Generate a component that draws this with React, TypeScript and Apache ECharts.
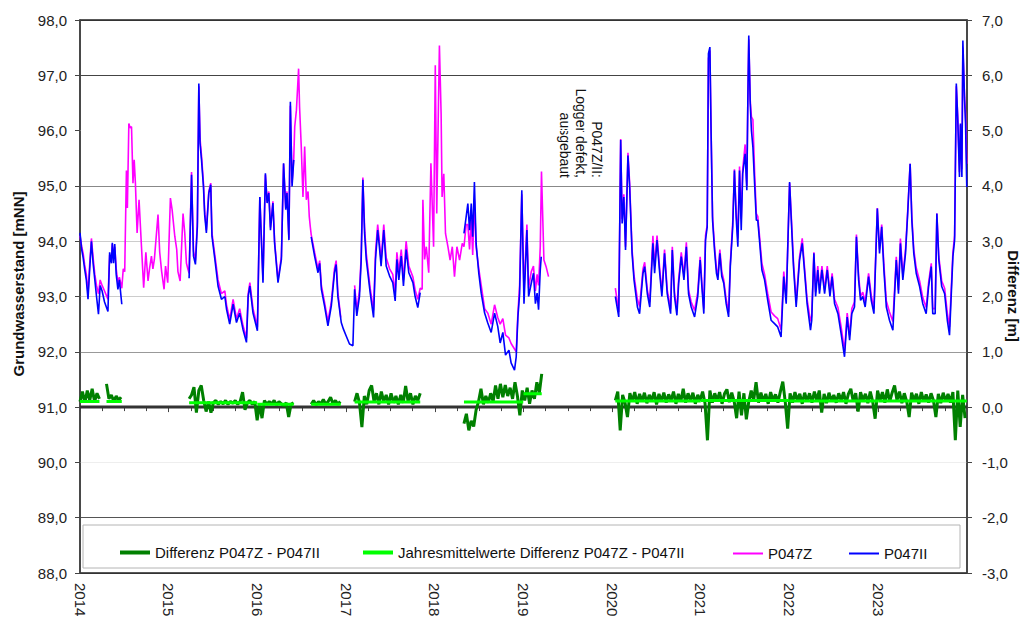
import React, { useEffect, useRef } from "react";
import * as echarts from "echarts";

const FONT = "'Liberation Sans', Arial, Helvetica, sans-serif";

// ---------- P047II (blue), segments separated by logger gaps ----------
const p047II_2014: [string, number][] = [
  ["2014-01-01", 94.15], ["2014-01-08", 93.85], ["2014-01-14", 93.7], ["2014-01-20", 93.5], ["2014-01-27", 93.3],
  ["2014-02-03", 92.95], ["2014-02-10", 93.5], ["2014-02-17", 94.0], ["2014-02-24", 93.6], ["2014-03-03", 93.3],
  ["2014-03-10", 93.0], ["2014-03-18", 92.68], ["2014-03-25", 93.2], ["2014-04-02", 93.1], ["2014-04-12", 92.9],
  ["2014-04-26", 92.73], ["2014-05-03", 93.8], ["2014-05-10", 93.6], ["2014-05-14", 93.97], ["2014-05-19", 93.6],
  ["2014-05-24", 93.95], ["2014-05-30", 93.4], ["2014-06-06", 93.13], ["2014-06-12", 93.3], ["2014-06-22", 92.86],
];
const p047II_2015: [string, number][] = [
  ["2015-03-26", 93.33], ["2015-04-05", 95.2], ["2015-04-13", 93.73], ["2015-04-21", 93.58], ["2015-04-29", 94.27],
  ["2015-05-05", 96.85], ["2015-05-10", 95.77], ["2015-05-16", 95.47], ["2015-05-24", 94.99], ["2015-05-29", 94.48],
  ["2015-06-05", 94.15], ["2015-06-15", 94.87], ["2015-06-23", 95.02], ["2015-06-28", 94.09], ["2015-07-10", 93.67],
  ["2015-07-23", 93.19], ["2015-08-06", 92.95], ["2015-08-20", 93.0], ["2015-08-27", 92.77], ["2015-09-09", 92.5],
  ["2015-09-23", 92.86], ["2015-10-07", 92.53], ["2015-10-20", 92.7], ["2015-11-03", 92.4], ["2015-11-17", 92.17],
  ["2015-11-24", 93.0], ["2015-12-01", 93.19], ["2015-12-14", 92.7], ["2016-01-01", 92.38], ["2016-01-11", 94.8],
  ["2016-01-24", 93.25], ["2016-02-03", 95.23], ["2016-02-10", 94.69], ["2016-02-17", 94.87], ["2016-02-24", 94.2],
  ["2016-03-05", 94.69], ["2016-03-12", 93.96], ["2016-03-26", 93.25], ["2016-04-09", 93.67], ["2016-04-18", 95.41],
  ["2016-04-27", 94.57], ["2016-05-02", 94.87], ["2016-05-10", 94.02], ["2016-05-16", 96.52], ["2016-05-23", 94.99],
  ["2016-05-30", 95.47],
];
const p047II_2016: [string, number][] = [
  ["2016-08-10", 94.08], ["2016-08-24", 93.73], ["2016-09-07", 93.43], ["2016-09-14", 93.6], ["2016-09-21", 93.13],
  ["2016-10-04", 92.83], ["2016-10-18", 92.47], ["2016-11-01", 92.83], ["2016-11-14", 93.43], ["2016-11-21", 93.58],
  ["2016-11-28", 93.0], ["2016-12-12", 92.53], ["2016-12-21", 92.41], ["2017-01-01", 92.29], ["2017-01-15", 92.14],
  ["2017-01-29", 92.11], ["2017-02-05", 93.13], ["2017-02-14", 92.65], ["2017-02-25", 93.0], ["2017-03-04", 93.64],
  ["2017-03-11", 95.11], ["2017-03-18", 94.15], ["2017-03-25", 93.67], ["2017-04-10", 93.07], ["2017-04-24", 92.62],
  ["2017-05-02", 93.67], ["2017-05-11", 94.2], ["2017-05-18", 93.9], ["2017-05-25", 93.55], ["2017-06-05", 94.2],
  ["2017-06-15", 93.55], ["2017-06-29", 93.37], ["2017-07-12", 93.25], ["2017-07-22", 92.92], ["2017-07-29", 93.67],
  ["2017-08-06", 93.3], ["2017-08-16", 93.73], ["2017-08-25", 93.19], ["2017-09-05", 93.85], ["2017-09-16", 93.43],
  ["2017-10-03", 93.25], ["2017-10-12", 93.0], ["2017-10-23", 92.8], ["2017-11-02", 93.07],
];
const p047II_2018: [string, number][] = [
  ["2018-05-01", 94.14], ["2018-05-10", 94.44], ["2018-05-17", 94.68], ["2018-05-24", 94.2], ["2018-05-31", 94.68],
  ["2018-06-06", 94.08], ["2018-06-13", 95.07], ["2018-06-20", 93.96], ["2018-07-01", 93.42], ["2018-07-11", 93.06],
  ["2018-07-25", 92.7], ["2018-08-07", 92.52], ["2018-08-21", 92.35], ["2018-09-04", 92.7], ["2018-09-17", 92.46],
  ["2018-09-27", 92.16], ["2018-10-08", 92.35], ["2018-10-19", 91.94], ["2018-11-02", 92.03], ["2018-11-11", 91.8],
  ["2018-11-25", 91.67], ["2018-12-02", 91.91], ["2018-12-09", 92.63], ["2018-12-16", 93.05], ["2018-12-25", 94.92],
  ["2019-01-03", 92.87], ["2019-01-15", 94.2], ["2019-01-22", 93.0], ["2019-02-02", 93.24], ["2019-02-11", 93.42],
  ["2019-02-19", 92.87], ["2019-02-26", 93.06], ["2019-03-04", 92.76], ["2019-03-11", 93.48], ["2019-03-15", 93.72],
];

// ---------- P047Z (magenta) ----------
const p047Z_a: [string, number][] = [
  ["2014-01-01", 94.1], ["2014-01-08", 93.9], ["2014-01-14", 93.78], ["2014-01-20", 93.58], ["2014-01-27", 93.4],
  ["2014-02-03", 93.05], ["2014-02-10", 93.6], ["2014-02-17", 94.05], ["2014-02-24", 93.7], ["2014-03-03", 93.4],
  ["2014-03-10", 93.2], ["2014-03-18", 93.05], ["2014-03-25", 93.3], ["2014-04-02", 93.2], ["2014-04-12", 93.1],
  ["2014-04-26", 92.95], ["2014-05-03", 93.75], ["2014-05-10", 93.65], ["2014-05-14", 93.95], ["2014-05-19", 93.7],
  ["2014-05-24", 93.9], ["2014-05-30", 93.5], ["2014-06-06", 93.25], ["2014-06-12", 93.35], ["2014-06-22", 93.15],
  ["2014-06-28", 93.5], ["2014-07-04", 93.45], ["2014-07-11", 95.28], ["2014-07-15", 94.6], ["2014-07-21", 96.13],
  ["2014-07-26", 96.05], ["2014-08-01", 96.07], ["2014-08-07", 95.05], ["2014-08-12", 95.47], ["2014-08-17", 95.05],
  ["2014-08-24", 94.15], ["2014-09-01", 94.75], ["2014-09-11", 93.9], ["2014-09-20", 93.16], ["2014-09-29", 93.8],
  ["2014-10-08", 93.28], ["2014-10-14", 93.5], ["2014-10-22", 93.73], ["2014-10-28", 93.5], ["2014-11-03", 93.67],
  ["2014-11-18", 94.48], ["2014-11-25", 93.8], ["2014-12-03", 93.45], ["2014-12-13", 93.13], ["2014-12-19", 93.55],
  ["2014-12-28", 93.25], ["2015-01-08", 94.78], ["2015-01-15", 94.57], ["2015-01-26", 94.09], ["2015-02-03", 93.85],
  ["2015-02-08", 93.45], ["2015-02-17", 93.28], ["2015-03-01", 94.5], ["2015-03-08", 94.15], ["2015-03-15", 93.6],
  ["2015-03-22", 93.48], ["2015-03-26", 93.42],
  ["2015-04-05", 95.25], ["2015-04-13", 93.82], ["2015-04-21", 93.65], ["2015-04-29", 94.35], ["2015-05-05", 96.8],
  ["2015-05-10", 95.85], ["2015-05-16", 95.55], ["2015-05-24", 95.05], ["2015-05-29", 94.55], ["2015-06-05", 94.2],
  ["2015-06-15", 94.9], ["2015-06-23", 95.05], ["2015-06-28", 94.15], ["2015-07-10", 93.75], ["2015-07-23", 93.3],
  ["2015-08-06", 93.05], ["2015-08-20", 93.1], ["2015-08-27", 92.85], ["2015-09-09", 92.58], ["2015-09-23", 92.95],
  ["2015-10-07", 92.6], ["2015-10-20", 92.78], ["2015-11-03", 92.47], ["2015-11-17", 92.25], ["2015-11-24", 93.05],
  ["2015-12-01", 93.25], ["2015-12-14", 92.78], ["2016-01-01", 92.45], ["2016-01-11", 94.8], ["2016-01-24", 93.3],
  ["2016-02-03", 95.2], ["2016-02-10", 94.72], ["2016-02-17", 94.9], ["2016-02-24", 94.25], ["2016-03-05", 94.72],
  ["2016-03-12", 94.0], ["2016-03-26", 93.3], ["2016-04-09", 93.72], ["2016-04-18", 95.4], ["2016-04-27", 94.6],
  ["2016-05-02", 94.9], ["2016-05-10", 94.05], ["2016-05-16", 96.45], ["2016-05-23", 95.05], ["2016-05-30", 95.5],
  ["2016-06-03", 96.07], ["2016-06-10", 96.37], ["2016-06-19", 97.12], ["2016-06-23", 96.43], ["2016-06-30", 95.71],
  ["2016-07-07", 94.8], ["2016-07-14", 95.71], ["2016-07-21", 94.75], ["2016-07-28", 94.9], ["2016-08-02", 94.45],
  ["2016-08-06", 94.27], ["2016-08-10", 94.12], ["2016-08-24", 93.8], ["2016-09-07", 93.5], ["2016-09-14", 93.65],
  ["2016-09-21", 93.2], ["2016-10-04", 92.9], ["2016-10-18", 92.55], ["2016-11-01", 92.9], ["2016-11-14", 93.5],
  ["2016-11-21", 93.65], ["2016-11-28", 93.08], ["2016-12-10", 92.62],
];
const p047Z_b: [string, number][] = [
  ["2017-02-05", 93.2], ["2017-02-14", 92.75], ["2017-02-25", 93.1], ["2017-03-04", 93.72], ["2017-03-11", 95.15],
  ["2017-03-18", 94.25], ["2017-03-25", 93.78], ["2017-04-10", 93.15], ["2017-04-24", 92.75], ["2017-05-02", 93.8],
  ["2017-05-11", 94.3], ["2017-05-18", 94.0], ["2017-05-25", 93.65], ["2017-06-05", 94.3], ["2017-06-15", 93.7],
  ["2017-06-29", 93.5], ["2017-07-12", 93.4], ["2017-07-22", 93.05], ["2017-07-29", 93.8], ["2017-08-06", 93.45],
  ["2017-08-16", 93.85], ["2017-08-25", 93.3], ["2017-09-05", 94.0], ["2017-09-16", 93.55], ["2017-10-03", 93.35],
  ["2017-10-12", 93.12], ["2017-10-23", 92.95], ["2017-11-02", 93.15], ["2017-11-10", 93.13], ["2017-11-13", 94.75],
  ["2017-11-20", 93.67], ["2017-11-27", 93.9], ["2017-12-07", 93.43], ["2017-12-16", 95.41], ["2017-12-27", 93.9],
  ["2018-01-03", 97.18], ["2018-01-09", 94.5], ["2018-01-14", 95.9], ["2018-01-20", 97.54], ["2018-01-27", 96.3],
  ["2018-01-31", 94.8], ["2018-02-07", 95.22], ["2018-02-14", 94.14], ["2018-02-24", 93.9], ["2018-03-05", 93.66],
  ["2018-03-14", 93.9], ["2018-03-23", 93.36], ["2018-04-02", 93.9], ["2018-04-13", 93.66], ["2018-04-24", 93.96],
  ["2018-05-01", 93.9], ["2018-05-10", 94.3], ["2018-05-17", 94.3], ["2018-05-24", 93.85], ["2018-05-31", 94.4],
  ["2018-06-06", 93.75], ["2018-06-13", 94.75], ["2018-06-20", 93.9], ["2018-07-01", 93.5], ["2018-07-11", 93.2],
  ["2018-07-25", 92.78], ["2018-08-07", 92.7], ["2018-08-21", 92.5], ["2018-09-04", 92.85], ["2018-09-17", 92.62],
  ["2018-09-27", 92.5], ["2018-10-08", 92.6], ["2018-10-19", 92.3], ["2018-11-02", 92.25], ["2018-11-11", 92.15],
  ["2018-11-25", 92.05], ["2018-12-02", 92.0], ["2018-12-09", 92.7], ["2018-12-16", 93.2], ["2018-12-25", 94.85],
  ["2019-01-03", 93.1], ["2019-01-15", 94.3], ["2019-01-22", 93.15], ["2019-02-02", 93.45], ["2019-02-11", 93.55],
  ["2019-02-19", 93.1], ["2019-02-26", 93.4], ["2019-03-04", 93.2], ["2019-03-11", 93.9], ["2019-03-16", 95.26],
  ["2019-03-26", 93.66], ["2019-04-04", 93.54], ["2019-04-14", 93.36],
];

// ---------- 2020-2023, both loggers ----------
const dates2020: string[] = [
  "2020-01-14", "2020-01-28", "2020-02-05", "2020-02-11", "2020-02-18", "2020-02-25", "2020-03-06", "2020-03-13", "2020-03-23", "2020-03-31",
  "2020-04-14", "2020-04-23", "2020-05-07", "2020-05-14", "2020-05-25", "2020-06-04", "2020-06-17", "2020-06-24", "2020-07-04", "2020-07-15",
  "2020-07-24", "2020-08-04", "2020-08-15", "2020-08-29", "2020-09-05", "2020-09-14", "2020-09-24", "2020-10-01", "2020-10-12", "2020-10-23",
  "2020-11-02", "2020-11-11", "2020-11-22", "2020-12-06", "2020-12-19", "2020-12-29", "2021-01-05", "2021-01-13", "2021-01-20", "2021-01-27",
  "2021-02-01", "2021-02-07", "2021-02-12", "2021-02-18", "2021-02-26", "2021-03-06", "2021-03-12", "2021-03-20", "2021-03-28", "2021-04-05",
  "2021-04-15", "2021-04-25", "2021-05-02", "2021-05-12", "2021-05-19", "2021-05-26", "2021-06-02", "2021-06-09", "2021-06-16", "2021-06-22",
  "2021-07-02", "2021-07-09", "2021-07-13", "2021-07-17", "2021-07-23", "2021-07-28", "2021-08-03", "2021-08-10", "2021-08-17", "2021-08-23",
  "2021-08-30", "2021-09-09", "2021-09-20", "2021-10-03", "2021-10-17", "2021-10-31", "2021-11-13", "2021-11-27", "2021-12-08", "2021-12-18",
  "2022-01-01", "2022-01-08", "2022-01-17", "2022-01-28", "2022-02-11", "2022-02-22", "2022-03-03", "2022-03-14", "2022-03-28", "2022-04-02",
  "2022-04-11", "2022-04-18", "2022-04-27", "2022-05-04", "2022-05-14", "2022-05-25", "2022-06-05", "2022-06-16", "2022-06-25", "2022-07-05",
  "2022-07-19", "2022-08-01", "2022-08-15", "2022-08-26", "2022-09-05", "2022-09-14", "2022-09-25", "2022-10-03", "2022-10-12", "2022-10-20",
  "2022-10-29", "2022-11-08", "2022-11-22", "2022-12-03", "2022-12-14", "2022-12-28", "2023-01-06", "2023-01-15", "2023-01-24", "2023-02-03",
  "2023-02-16", "2023-03-02", "2023-03-16", "2023-03-25", "2023-04-02", "2023-04-12", "2023-04-23", "2023-05-02", "2023-05-12", "2023-05-19",
  "2023-05-27", "2023-06-06", "2023-06-20", "2023-07-03", "2023-07-17", "2023-07-27", "2023-08-07", "2023-08-13", "2023-08-23", "2023-08-30",
  "2023-09-07", "2023-09-19", "2023-10-01", "2023-10-12", "2023-10-21", "2023-11-04", "2023-11-11", "2023-11-18", "2023-11-24", "2023-12-01",
  "2023-12-05", "2023-12-11", "2023-12-15", "2023-12-22", "2023-12-26", "2023-12-31",
];
const p047II_2020: number[] = [
  93.0, 92.63, 95.83, 94.32, 94.8, 93.84, 95.55, 94.98, 93.78, 93.3,
  92.81, 92.69, 93.42, 93.54, 93.05, 92.81, 93.96, 93.42, 94.02, 93.42,
  93.0, 93.78, 93.05, 92.69, 93.84, 93.0, 92.66, 93.23, 93.72, 93.3,
  93.9, 93.05, 92.81, 92.63, 93.0, 93.66, 93.18, 92.69, 94.02, 94.26,
  97.39, 97.51, 95.95, 94.38, 93.84, 93.42, 93.3, 93.78, 93.36, 93.24,
  92.87, 92.63, 93.54, 94.26, 95.28, 94.44, 93.9, 95.28, 94.2, 95.22,
  95.58, 94.92, 96.49, 97.72, 96.49, 96.0, 95.7, 95.04, 94.38, 94.38,
  94.02, 93.48, 93.3, 92.93, 92.57, 92.51, 92.45, 92.27, 93.36, 92.87,
  95.07, 94.38, 93.54, 92.81, 93.66, 93.96, 93.48, 92.87, 92.39, 92.57,
  93.78, 93.0, 93.48, 93.05, 93.48, 93.05, 93.48, 93.0, 93.36, 92.87,
  92.69, 92.33, 91.91, 92.63, 92.21, 92.69, 92.81, 94.08, 93.3, 92.93,
  93.0, 92.81, 93.36, 92.93, 92.69, 94.59, 93.78, 94.26, 93.48, 92.81,
  92.57, 92.39, 93.66, 93.05, 93.96, 93.3, 93.78, 94.5, 95.4, 94.38,
  93.78, 93.42, 93.18, 92.87, 92.69, 93.18, 93.54, 92.69, 92.69, 94.5,
  93.66, 93.18, 93.05, 92.57, 92.3, 93.72, 94.02, 96.85, 96.19, 95.16,
  96.13, 95.16, 97.63, 96.55, 96.13, 94.98,
];
const p047Z_2020: number[] = [
  93.15, 92.72, 95.85, 94.4, 94.85, 93.9, 95.6, 95.05, 93.85, 93.38,
  92.95, 92.82, 93.5, 93.62, 93.12, 92.9, 94.1, 93.55, 94.1, 93.5,
  93.08, 93.85, 93.12, 92.78, 93.9, 93.08, 92.75, 93.3, 93.8, 93.38,
  93.98, 93.12, 92.9, 92.75, 93.08, 93.72, 93.25, 92.78, 94.1, 94.3,
  97.3, 97.45, 96.0, 94.45, 93.92, 93.5, 93.38, 93.85, 93.45, 93.3,
  92.95, 92.72, 93.6, 94.35, 95.3, 94.55, 94.05, 95.35, 94.4, 95.3,
  95.75, 95.0, 96.5, 97.65, 96.55, 96.25, 96.2, 95.25, 94.5, 94.45,
  94.1, 93.6, 93.4, 93.05, 92.72, 92.65, 92.6, 92.4, 93.45, 92.95,
  95.05, 94.45, 93.62, 92.9, 93.72, 94.05, 93.55, 92.95, 92.55, 92.65,
  93.8, 93.08, 93.55, 93.12, 93.55, 93.12, 93.55, 93.08, 93.42, 92.95,
  92.8, 92.45, 92.02, 92.7, 92.3, 92.78, 92.9, 94.12, 93.38, 93.0,
  93.08, 92.9, 93.42, 93.02, 92.78, 94.6, 93.85, 94.3, 93.58, 92.92,
  92.72, 92.55, 93.72, 93.12, 94.05, 93.38, 93.85, 94.55, 95.4, 94.45,
  93.85, 93.52, 93.28, 92.98, 92.8, 93.25, 93.6, 92.78, 92.78, 94.5,
  93.72, 93.28, 93.15, 92.7, 92.45, 93.8, 94.1, 96.8, 96.25, 95.25,
  96.1, 95.3, 97.5, 96.6, 96.3, 95.4,
];

// ---------- Differenz P047Z - P047II (right axis), 10-day readings ----------
const diff2014aStart = "2014-01-01";
const diff2014a: number[] = [0.1, 0.28, 0.08, 0.3, 0.12, 0.33, 0.1, 0.25, 0.15];
const diff2014bStart = "2014-04-20";
const diff2014b: number[] = [0.42, 0.15, 0.22, 0.1, 0.2, 0.12, 0.18];
const diff2015Start = "2015-03-26";
const diff2015: number[] = [
  0.15, 0.22, 0.36, -0.1, 0.3, 0.39, 0.12, -0.08, 0.1, -0.1,
  0.08, 0.12, 0.05, 0.1, 0.06, 0.12, 0.05, 0.1, 0.07, 0.12,
  0.05, 0.1, 0.27, -0.05, 0.08, 0.12, 0.05, 0.1, -0.24, 0.06,
  -0.2, 0.12, 0.05, 0.1, 0.06, 0.12, 0.04, 0.1, 0.06, 0.02,
  0.08, -0.18, 0.05, 0.08,
];
const diff2016Start = "2016-08-10";
const diff2016: number[] = [0.05, 0.12, 0.04, 0.1, 0.06, 0.14, 0.05, 0.1, 0.18, 0.06, 0.12, 0.05, 0.1];
const diff2017Start = "2017-02-05";
const diff2017: number[] = [
  0.1, 0.25, 0.08, -0.36, 0.2, 0.05, 0.3, 0.39, 0.1, 0.25,
  0.05, 0.28, 0.1, 0.22, 0.05, 0.25, 0.08, 0.2, 0.05, 0.22,
  0.08, 0.38, 0.1, 0.25, 0.05, 0.2, 0.12, 0.25,
];
const diff2018Start = "2018-05-01";
const diff2018: number[] = [
  -0.3, -0.12, -0.42, -0.25, -0.35, -0.05, 0.1, 0.33, 0.05, 0.2,
  0.08, 0.25, 0.1, 0.39, 0.15, 0.42, 0.18, 0.4, 0.2, 0.35,
  0.15, 0.45, 0.2, -0.15, 0.3, 0.12, 0.35, 0.06, 0.3, 0.15,
  0.45, 0.25, 0.6,
];
const diff2020Start = "2020-01-14";
const diff2020: number[] = [
  0.12, 0.28, -0.42, 0.22, 0.08, -0.18, 0.25, 0.1, 0.27, 0.06,
  0.24, 0.1, 0.26, 0.07, 0.22, 0.12, 0.27, 0.05, 0.24, 0.1,
  0.26, 0.08, 0.23, 0.12, 0.28, 0.06, 0.24, 0.1, 0.33, 0.08,
  0.25, 0.11, 0.26, 0.06, 0.22, 0.12, 0.28, 0.07, -0.6, 0.3,
  0.08, 0.25, 0.12, 0.27, 0.06, 0.24, 0.32, 0.09, 0.26, 0.1,
  -0.2, 0.28, -0.15, 0.25, -0.22, 0.1, 0.3, 0.12, 0.45, 0.08,
  0.26, 0.1, 0.24, 0.06, 0.27, 0.12, 0.23, 0.08, 0.28, 0.46,
  0.1, -0.39, 0.25, 0.08, 0.27, 0.12, 0.24, 0.06, 0.26, 0.1,
  0.25, 0.08, 0.28, 0.12, 0.3, -0.1, 0.24, 0.07, 0.26, 0.11,
  0.22, 0.08, 0.25, 0.12, 0.27, 0.06, 0.24, 0.33, 0.1, 0.25,
  -0.08, 0.27, 0.12, 0.24, 0.07, 0.28, 0.1, -0.21, 0.3, 0.12,
  0.27, 0.08, 0.32, 0.1, 0.26, 0.39, 0.12, 0.28, 0.07, 0.25,
  0.1, -0.18, 0.26, 0.12, 0.24, 0.06, 0.27, 0.1, 0.23, 0.08,
  0.25, 0.12, -0.18, 0.24, 0.07, 0.26, 0.1, 0.24, 0.08, 0.27,
  -0.6, 0.3, -0.36, 0.22, -0.2,
];

// ---------- Jahresmittelwerte (start, end, value) ----------
const yearMeans: [string, string, number][] = [
  ["2014-01-01", "2014-03-22", 0.1],
  ["2014-04-20", "2014-06-22", 0.1],
  ["2015-03-26", "2015-12-31", 0.08],
  ["2016-01-01", "2016-05-30", 0.05],
  ["2016-08-10", "2016-12-10", 0.05],
  ["2017-02-05", "2017-11-02", 0.09],
  ["2018-05-01", "2018-12-31", 0.09],
  ["2019-01-01", "2019-03-17", 0.24],
  ["2020-01-14", "2020-12-31", 0.11],
  ["2021-01-01", "2021-12-31", 0.12],
  ["2022-01-01", "2022-12-31", 0.11],
  ["2023-01-01", "2023-12-31", 0.11],
];

const leftGridColors = ["#333", "#555", "#eeeeee", "#333", "#999", "#cccccc", "#cccccc", "#888", "#ffffff", "#444", "#333"];

// ---------- helpers ----------
const DAY = 86400000;
function ymd(d: string): number {
  const [y, m, dd] = d.split("-").map(Number);
  return Date.UTC(y, m - 1, dd);
}
function msToYear(ms: number): number {
  const y = new Date(ms).getUTCFullYear();
  const s = Date.UTC(y, 0, 1);
  const e = Date.UTC(y + 1, 0, 1);
  return y + (ms - s) / (e - s);
}
const toYear = (d: string) => msToYear(ymd(d));
function pts(arr: [string, number][]): any[] {
  return arr.map(([d, v]) => [toYear(d), v]);
}
function zipPts(dates: string[], vals: number[]): any[] {
  return dates.map((d, i) => [toYear(d), vals[i]]);
}
function stepPts(start: string, vals: number[], step = 10): any[] {
  const s = ymd(start);
  return vals.map((v, i) => [msToYear(s + i * step * DAY), v]);
}
function join(segs: any[][]): any[] {
  const out: any[] = [];
  segs.forEach((seg, i) => {
    if (i > 0) out.push([(out[out.length - 1][0] + seg[0][0]) / 2, "-"]);
    out.push(...seg);
  });
  return out;
}
const fmt = (v: number) => v.toFixed(1).replace(".", ",");

export default function App() {
  const ref = useRef<HTMLDivElement>(null);
  useEffect(() => {
    if (!ref.current) return;
    const chart = echarts.init(ref.current, undefined, { renderer: "svg" });

    const blue = join([pts(p047II_2014), pts(p047II_2015), pts(p047II_2016), pts(p047II_2018), zipPts(dates2020, p047II_2020)]);
    const magenta = join([pts(p047Z_a), pts(p047Z_b), zipPts(dates2020, p047Z_2020)]);
    const diff = join([
      stepPts(diff2014aStart, diff2014a), stepPts(diff2014bStart, diff2014b), stepPts(diff2015Start, diff2015),
      stepPts(diff2016Start, diff2016), stepPts(diff2017Start, diff2017), stepPts(diff2018Start, diff2018),
      stepPts(diff2020Start, diff2020),
    ]);
    const means = join(yearMeans.map(([a, b, v]) => [[toYear(a), v], [toYear(b), v]]));

    const textStyle = { fontSize: 15, color: "#111", fontFamily: FONT };
    const legendItem = (name: string, left: number, h: number) => ({
      left, top: 547 - h / 2, itemWidth: 30, itemHeight: h, padding: 0, selectedMode: false,
      icon: "rect", textStyle, data: [name],
    });
    const axisTxt = { fontSize: 15, color: "#222", fontFamily: FONT };

    chart.setOption({
      animation: false,
      backgroundColor: "#ffffff",
      textStyle: { fontFamily: FONT },
      grid: { left: 80, right: 60, top: 20, bottom: 48, show: true, borderColor: "#222", borderWidth: 1.5, backgroundColor: "transparent" },
      xAxis: {
        type: "value", min: 2014, max: 2024, interval: 1,
        axisLine: { show: true, lineStyle: { color: "#444", width: 1.5 } },
        axisTick: { show: true, length: 5, lineStyle: { color: "#444" } },
        minorTick: { show: true, splitNumber: 4, length: 4, lineStyle: { color: "#444" } },
        splitLine: { show: false }, minorSplitLine: { show: false },
        axisLabel: { ...axisTxt, rotate: -90, margin: 10, formatter: (v: number) => (v >= 2024 ? "" : String(v)) },
      },
      yAxis: [
        {
          type: "value", min: 88, max: 98, interval: 1, position: "left",
          axisLine: { show: true, lineStyle: { color: "#444", width: 1.5 } },
          axisTick: { show: true, length: 5, lineStyle: { color: "#444" } },
          axisLabel: { ...axisTxt, margin: 13, formatter: fmt },
          splitLine: { show: true, lineStyle: { color: leftGridColors, width: 1 } },
        },
        {
          type: "value", min: -3, max: 7, interval: 1, position: "right",
          axisLine: { show: true, lineStyle: { color: "#444", width: 1.5 } },
          axisTick: { show: true, length: 5, lineStyle: { color: "#444" } },
          axisLabel: { ...axisTxt, margin: 15, formatter: fmt },
          splitLine: { show: false },
        },
      ],
      legend: [
        legendItem("Differenz P047Z - P047II", 120, 4),
        legendItem("Jahresmittelwerte Differenz P047Z - P047II", 363, 4),
        legendItem("P047Z", 733, 2),
        legendItem("P047II", 849, 2),
      ],
      graphic: [
        { type: "rect", z: 0, shape: { x: 83, y: 525, width: 877, height: 43 }, style: { fill: "#ffffff", stroke: "#b4b4b4", lineWidth: 1 } },
        {
          type: "text", x: 18, y: 284, rotation: Math.PI / 2,
          style: { text: "Grundwasserstand [mNN]", font: `bold 15px ${FONT}`, fill: "#111", align: "center", verticalAlign: "middle" },
        },
        {
          type: "text", x: 1013, y: 296, rotation: -Math.PI / 2,
          style: { text: "Differenz [m]", font: `bold 15px ${FONT}`, fill: "#111", align: "center", verticalAlign: "middle" },
        },
        {
          type: "text", x: 605, y: 178, rotation: -Math.PI / 2,
          style: { text: "P047Z/II:\nLogger defekt,\nausgebaut", font: `14px ${FONT}`, fill: "#111", align: "right", verticalAlign: "top", lineHeight: 16 },
        },
      ],
      series: [
        {
          name: "_zero", type: "line", yAxisIndex: 1, data: [[2014, 0], [2024, 0]], symbol: "none", silent: true, z: 1,
          lineStyle: { color: "#333", width: 3 },
        },
        {
          name: "Differenz P047Z - P047II", type: "line", yAxisIndex: 1, data: diff, symbol: "none", showSymbol: false, z: 2,
          color: "#008000", lineStyle: { color: "#008000", width: 3 },
        },
        {
          name: "Jahresmittelwerte Differenz P047Z - P047II", type: "line", yAxisIndex: 1, data: means, symbol: "none", showSymbol: false, z: 3,
          color: "#00ff00", lineStyle: { color: "#00ff00", width: 3 },
        },
        {
          name: "P047Z", type: "line", yAxisIndex: 0, data: magenta, symbol: "none", showSymbol: false, z: 4,
          color: "#ff00ff", lineStyle: { color: "#ff00ff", width: 1.6 },
        },
        {
          name: "P047II", type: "line", yAxisIndex: 0, data: blue, symbol: "none", showSymbol: false, z: 5,
          color: "#0000ff", lineStyle: { color: "#0000ff", width: 1.6 },
        },
      ],
    });
    return () => chart.dispose();
  }, []);
  return <div ref={ref} style={{ position: "absolute", left: 0, top: 0, width: 1027, height: 621 }} />;
}
